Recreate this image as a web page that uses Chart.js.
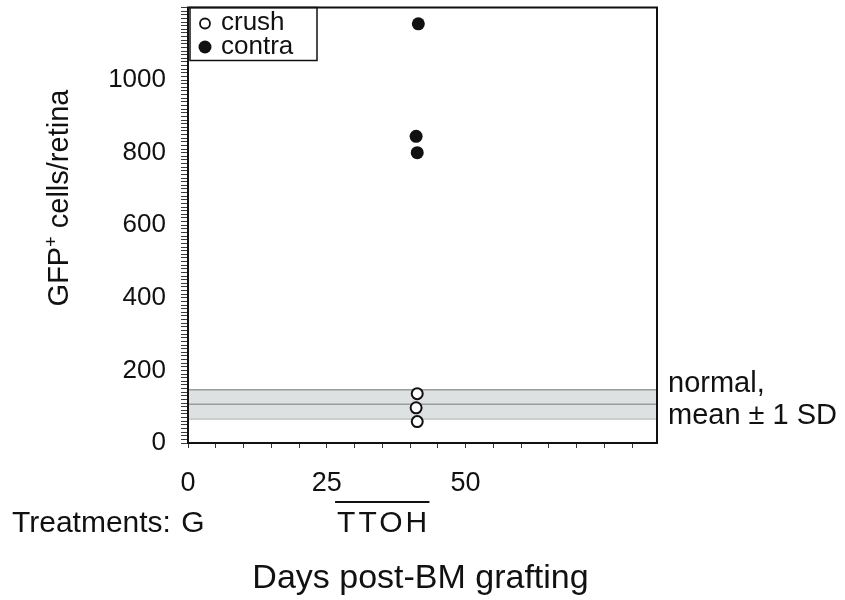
<!DOCTYPE html>
<html>
<head>
<meta charset="utf-8">
<script src="https://cdn.jsdelivr.net/npm/chart.js@4/dist/chart.umd.min.js"></script>
<style>
  html, body { margin: 0; padding: 0; background: #ffffff; }
  canvas { display: block; }
</style>
</head>
<body>
<canvas id="c" width="845" height="600"></canvas>
<script>
// ---- data ----
const crushDays = [41.3, 41.1, 41.3];
const crushValues = [136, 97, 59];
const contraDays = [41.5, 41.1, 41.3];
const contraValues = [1155, 845, 800];
const normalMean = 107;
const normalSD = 40;
const xMin = 0, xMax = 84.5;
const yMin = 0, yMax = 1200;
const xTickValues = [0,5,10,15,20,25,30,35,40,45,50,55,60,65,70,75,80];
const xTickLabels = [0, 25, 50];
const yTickValues = Array.from({length: 121}, (_, i) => i * 10);
const yTickLabels = [0, 200, 400, 600, 800, 1000];
const treatmentG = 0;
const ttohStart = 26.5, ttohEnd = 43.5;
const legendLabels = ['crush', 'contra'];

const FONT = '"Liberation Sans", Arial, Helvetica, sans-serif';
const INK = '#111111';

const crushPts = crushDays.map((d, i) => ({x: d, y: crushValues[i]}));
const contraPts = contraDays.map((d, i) => ({x: d, y: contraValues[i]}));
const line = v => [{x: xMin, y: v}, {x: xMax, y: v}];

const decor = {
  id: 'decor',
  afterDraw(chart) {
    const ctx = chart.ctx;
    const a = chart.chartArea;
    const xs = chart.scales.x;
    ctx.save();
    // frame
    ctx.strokeStyle = INK;
    ctx.lineWidth = 2;
    ctx.strokeRect(a.left, a.top, a.right - a.left, a.bottom - a.top);

    // legend box
    ctx.lineWidth = 1.5;
    ctx.strokeRect(a.left + 2, a.top, 127, 53);
    ctx.fillStyle = INK;
    ctx.font = '26px ' + FONT;
    ctx.textBaseline = 'middle';
    ctx.textAlign = 'left';
    ctx.beginPath();
    ctx.arc(a.left + 17, a.top + 16, 5, 0, Math.PI * 2);
    ctx.lineWidth = 1.8;
    ctx.strokeStyle = INK;
    ctx.fillStyle = '#ffffff';
    ctx.fill();
    ctx.stroke();
    ctx.fillStyle = INK;
    ctx.fillText(legendLabels[0], a.left + 33, a.top + 15);
    ctx.beginPath();
    ctx.arc(a.left + 17, a.top + 39.5, 6.5, 0, Math.PI * 2);
    ctx.fill();
    ctx.fillText(legendLabels[1], a.left + 33, a.top + 39);

    // right-side band label
    ctx.font = '29px ' + FONT;
    ctx.textBaseline = 'alphabetic';
    ctx.fillText('normal,', a.right + 11, 392);
    ctx.fillText('mean \u00B1 1 SD', a.right + 11, 424);

    // y title (rotated)
    ctx.save();
    ctx.translate(68, 198);
    ctx.rotate(-Math.PI / 2);
    const part1 = 'GFP', part3 = ' cells/retina';
    ctx.font = '29px ' + FONT;
    const w1 = ctx.measureText(part1).width;
    ctx.font = '18px ' + FONT;
    const w2 = ctx.measureText('+').width;
    ctx.font = '29px ' + FONT;
    const w3 = ctx.measureText(part3).width;
    const x0 = -(w1 + w2 + w3) / 2;
    ctx.textAlign = 'left';
    ctx.fillText(part1, x0, 0);
    ctx.font = '18px ' + FONT;
    ctx.fillText('+', x0 + w1, -11);
    ctx.font = '29px ' + FONT;
    ctx.fillText(part3, x0 + w1 + w2, 0);
    ctx.restore();

    // x title
    ctx.font = '34px ' + FONT;
    ctx.textAlign = 'center';
    ctx.fillText('Days post-BM grafting', (a.left + a.right) / 2 - 2, 588);

    // treatments row
    ctx.font = '30px ' + FONT;
    ctx.textAlign = 'left';
    ctx.fillText('Treatments:', 12, 532);
    ctx.textAlign = 'center';
    ctx.fillText('G', xs.getPixelForValue(treatmentG) + 5, 532);
    const tx0 = xs.getPixelForValue(ttohStart), tx1 = xs.getPixelForValue(ttohEnd);
    ctx.textAlign = 'left';
    ctx.letterSpacing = '3px';
    ctx.fillText('TTOH', tx0 + 2, 532);
    ctx.letterSpacing = '0px';
    ctx.beginPath();
    ctx.lineWidth = 2;
    ctx.moveTo(tx0, 502);
    ctx.lineTo(tx1, 502);
    ctx.stroke();
    ctx.restore();
  }
};

const zeroPad = s => { s.paddingTop = 0; s.paddingBottom = 0; s.paddingLeft = 0; s.paddingRight = 0; };

new Chart(document.getElementById('c'), {
  type: 'scatter',
  data: {
    datasets: [
      {
        label: 'crush',
        data: crushPts,
        pointRadius: 5.5,
        pointBorderWidth: 2,
        pointBackgroundColor: '#ffffff',
        pointBorderColor: INK,
        order: 0
      },
      {
        label: 'contra',
        data: contraPts,
        pointRadius: 6.5,
        pointBorderWidth: 0,
        pointBackgroundColor: INK,
        pointBorderColor: INK,
        order: 0
      },
      {
        label: 'mean',
        data: line(normalMean),
        showLine: true,
        pointRadius: 0,
        borderColor: '#9a9d9d',
        borderWidth: 1.5,
        order: 5
      },
      {
        label: 'upper',
        data: line(normalMean + normalSD),
        showLine: true,
        pointRadius: 0,
        borderColor: '#9a9d9d',
        borderWidth: 1.5,
        backgroundColor: '#dde1e1',
        fill: '+1',
        order: 10
      },
      {
        label: 'lower',
        data: line(normalMean - normalSD),
        showLine: true,
        pointRadius: 0,
        borderColor: '#9a9d9d',
        borderWidth: 1.5,
        order: 10
      }
    ]
  },
  options: {
    responsive: false,
    animation: false,
    events: [],
    layout: { padding: { left: 0, top: 7, right: 188, bottom: 0 } },
    plugins: {
      legend: { display: false },
      tooltip: { enabled: false },
      title: { display: false }
    },
    scales: {
      x: {
        type: 'linear',
        min: xMin,
        max: xMax,
        afterFit: s => { s.height = 157; zeroPad(s); },
        afterBuildTicks: s => { s.ticks = xTickValues.map(v => ({value: v})); },
        grid: { drawOnChartArea: false, drawTicks: true, tickLength: 5, color: '#333333', lineWidth: 1 },
        border: { display: true, color: INK, width: 2 },
        ticks: {
          autoSkip: false,
          maxRotation: 0,
          padding: 19,
          color: INK,
          font: { family: FONT, size: 27 },
          callback: v => xTickLabels.includes(v) ? String(v) : ''
        }
      },
      y: {
        type: 'linear',
        min: yMin,
        max: yMax,
        afterFit: s => { s.width = 188; zeroPad(s); },
        afterBuildTicks: s => { s.ticks = yTickValues.map(v => ({value: v})); },
        grid: { drawOnChartArea: false, drawTicks: true, tickLength: 7, color: '#3a3a3a', lineWidth: 1 },
        border: { display: true, color: INK, width: 2 },
        ticks: {
          autoSkip: false,
          padding: 15,
          color: INK,
          font: { family: FONT, size: 26 },
          callback: v => yTickLabels.includes(v) ? String(v) : ''
        }
      }
    }
  },
  plugins: [decor]
});
</script>
</body>
</html>
